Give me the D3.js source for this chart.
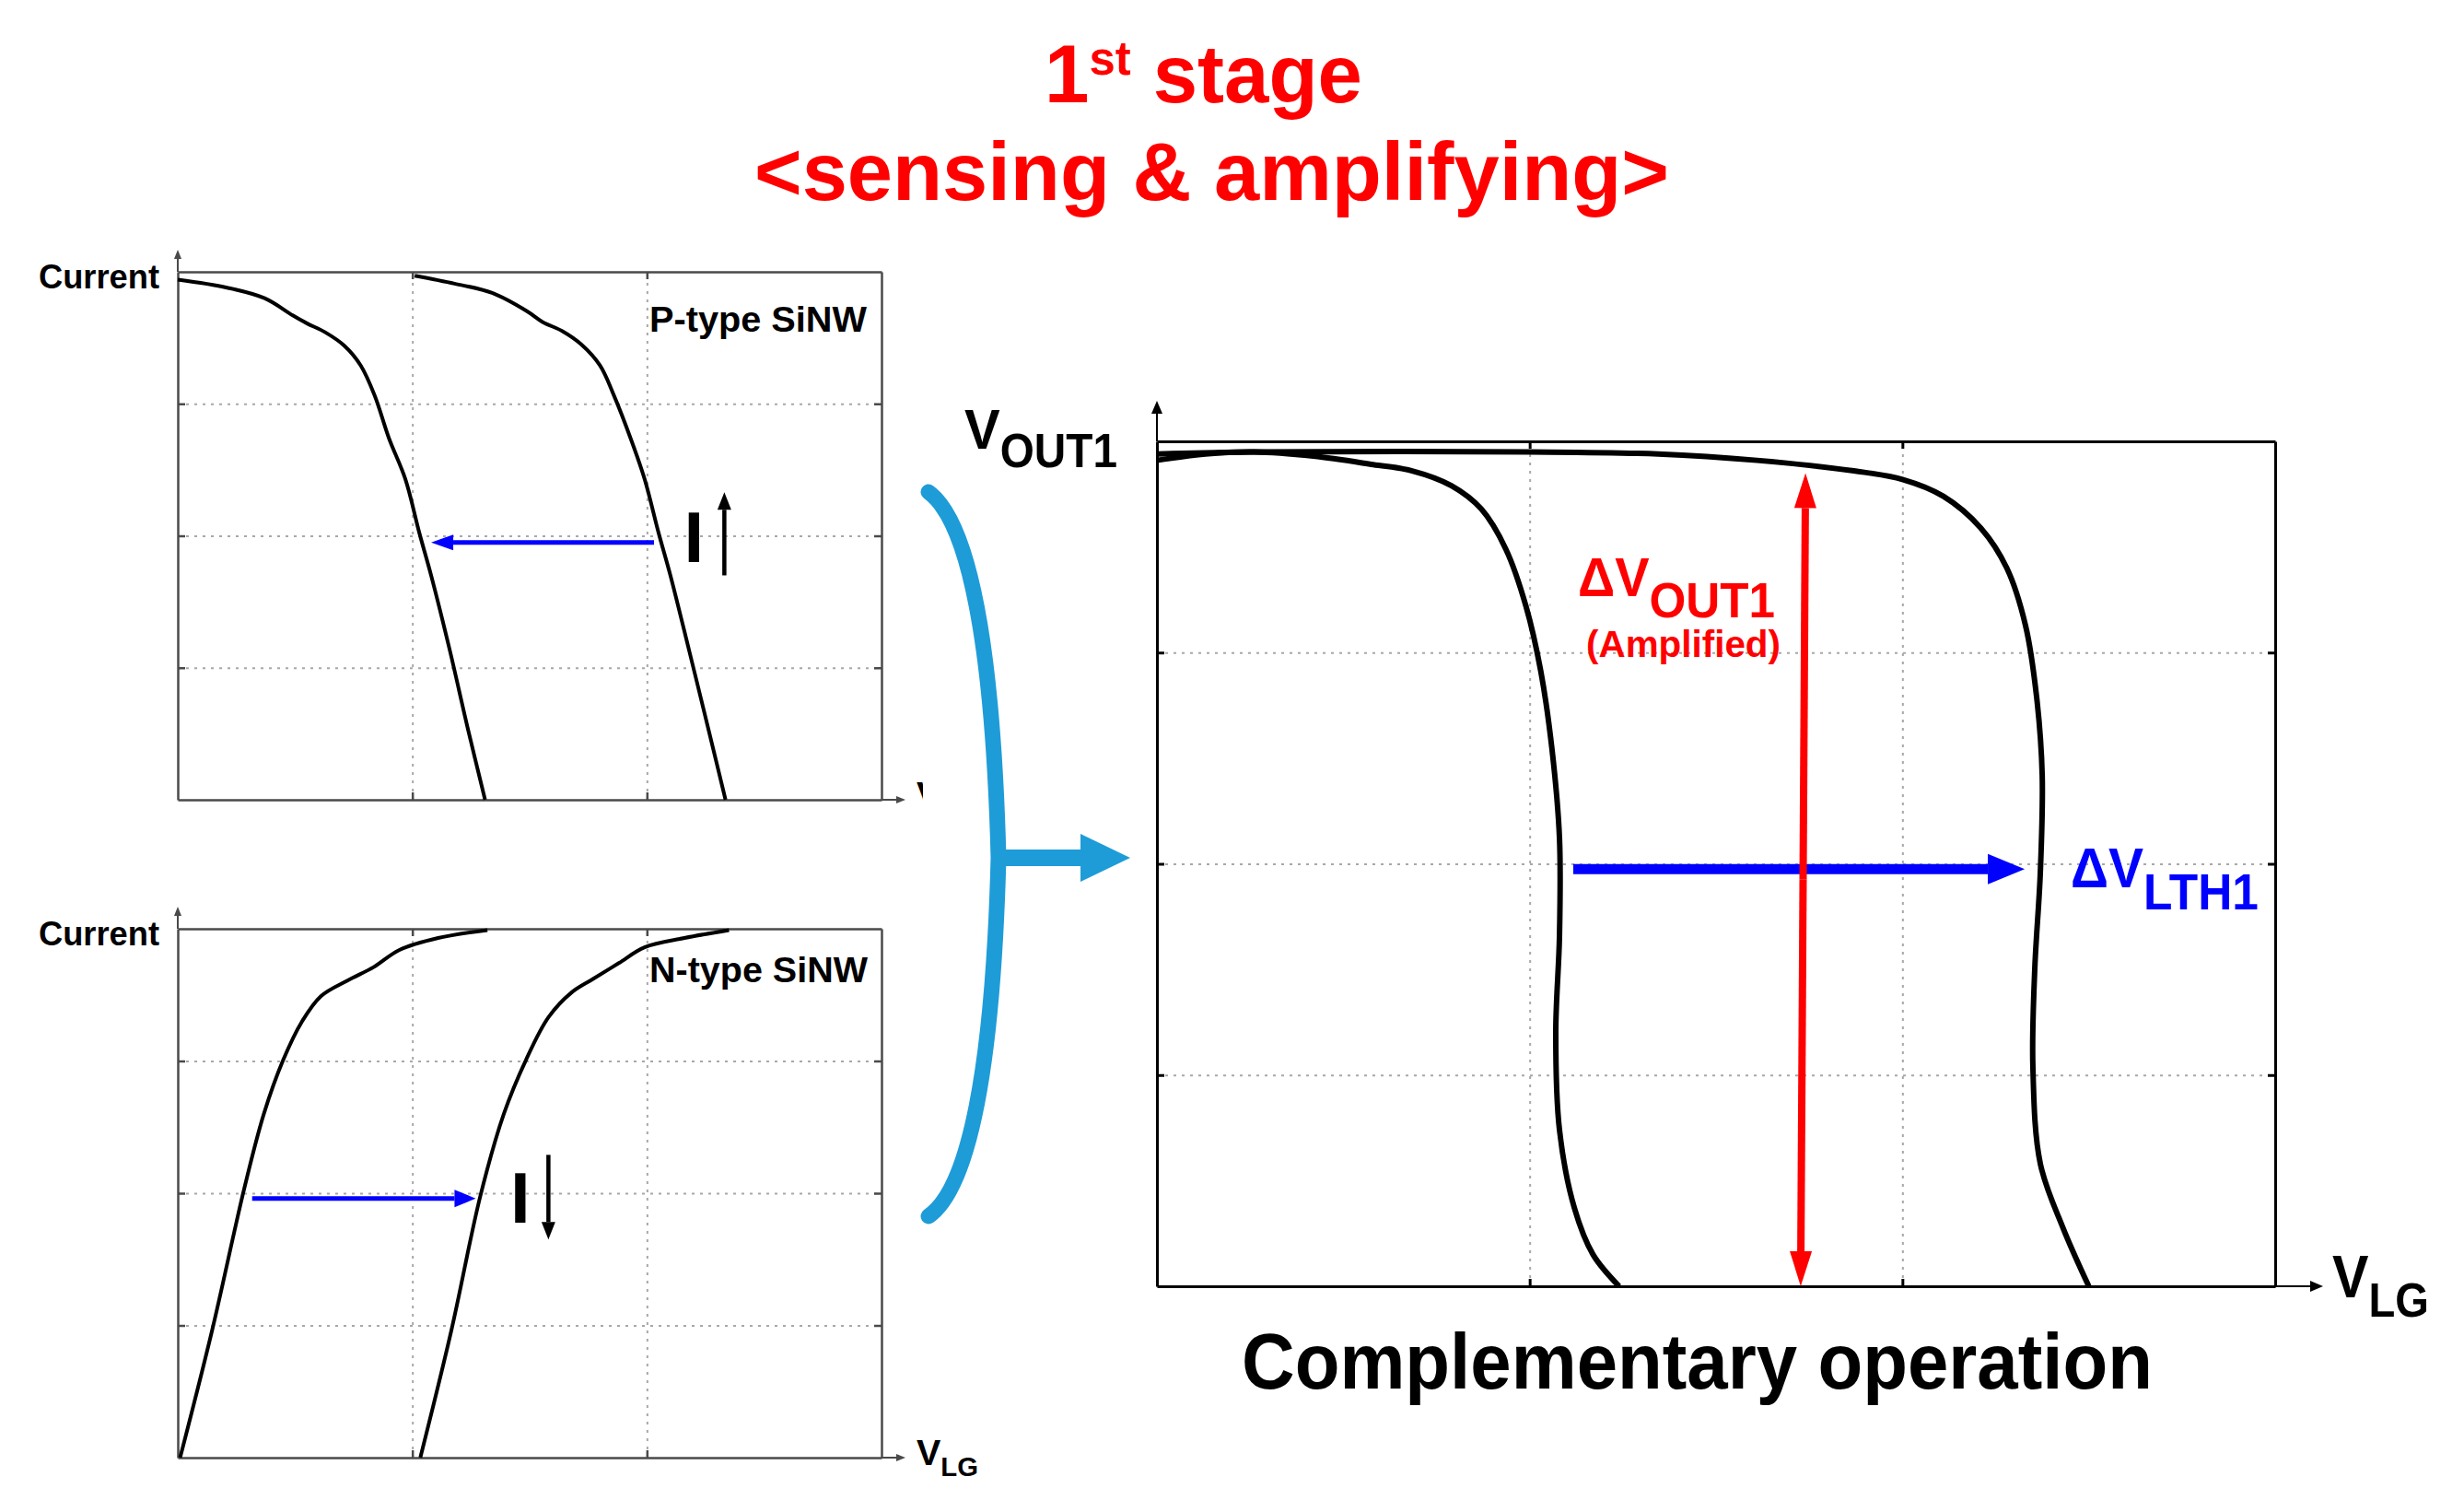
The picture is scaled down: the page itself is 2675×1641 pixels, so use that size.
<!DOCTYPE html>
<html>
<head>
<meta charset="utf-8">
<script src="https://d3js.org/d3.v7.min.js"></script>
<style>
body { margin: 0; background: #fff; }
text { font-family: "Liberation Sans", Arial, sans-serif; font-weight: bold; }
</style>
</head>
<body>
<div id="chart"></div>
<script>
// values, in grid units (x: 0..3, y: 0..4)
const xTicks = [1, 2];
const yTicks = [1, 2, 3];

const pTypeA = [[0,3.94],[0.21,3.88],[0.37,3.80],[0.49,3.67],[0.55,3.61],[0.63,3.54],[0.71,3.44],
  [0.78,3.29],[0.84,3.06],[0.90,2.74],[0.97,2.43],[1.03,2.02],[1.08,1.70],[1.16,1.13],[1.235,0.55],[1.31,0]];
const pTypeB = [[1.01,3.97],[1.18,3.91],[1.34,3.84],[1.49,3.70],[1.555,3.62],[1.64,3.55],[1.72,3.45],
  [1.80,3.29],[1.86,3.06],[1.93,2.74],[1.99,2.43],[2.05,2.02],[2.10,1.70],[2.18,1.13],[2.26,0.55],[2.335,0]];

const nTypeA = [[0.01,0],[0.146,0.96],[0.284,2.04],[0.367,2.60],[0.45,3.01],[0.53,3.30],[0.61,3.49],
  [0.725,3.61],[0.835,3.71],[0.945,3.84],[1.11,3.93],[1.32,3.99]];
const nTypeB = [[1.034,0],[1.166,0.96],[1.29,1.98],[1.39,2.60],[1.485,3.01],[1.58,3.33],[1.68,3.52],
  [1.77,3.62],[1.88,3.74],[1.99,3.86],[2.16,3.93],[2.35,3.99]];

const outA = [[0,3.91],[0.13,3.94],[0.26,3.95],[0.42,3.93],[0.58,3.89],[0.685,3.86],[0.79,3.79],[0.87,3.68],
  [0.936,3.49],[0.99,3.22],[1.03,2.91],[1.06,2.54],[1.08,2.12],[1.08,1.66],[1.07,1.20],[1.08,0.74],
  [1.12,0.37],[1.17,0.15],[1.24,0]];
const outB = [[0,3.94],[0.26,3.95],[1.0,3.95],[1.345,3.94],[1.61,3.91],[1.87,3.86],[2.0,3.82],[2.11,3.74],
  [2.21,3.59],[2.28,3.40],[2.33,3.13],[2.36,2.79],[2.375,2.42],[2.37,1.96],[2.355,1.50],[2.35,1.04],
  [2.37,0.58],[2.43,0.28],[2.50,0]];

// shifts shown by the arrows: [y, from x, to x]
const pShift = [1.95, 2.03, 1.08];
const nShift = [1.96, 0.317, 1.27];
const lthShift = [1.975, 1.117, 2.328];
// output swing: [x top, y top, x bottom, y bottom]
const outSwing = [1.74, 3.85, 1.727, 0];

const width = 2675, height = 1641;

const svg = d3.select("#chart").append("svg")
  .attr("width", width)
  .attr("height", height);

function arrow(g, x1, y1, x2, y2, color, w, hl, hw) {
  const a = Math.atan2(y2 - y1, x2 - x1);
  const bx = x2 - hl * Math.cos(a), by = y2 - hl * Math.sin(a);
  g.append("line").attr("x1", x1).attr("y1", y1).attr("x2", bx).attr("y2", by)
    .attr("stroke", color).attr("stroke-width", w);
  const px = -Math.sin(a) * hw / 2, py = Math.cos(a) * hw / 2;
  g.append("path")
    .attr("d", "M" + x2 + "," + y2 + "L" + (bx + px) + "," + (by + py) + "L" + (bx - px) + "," + (by - py) + "Z")
    .attr("fill", color);
}

function panel(box, frameColor, frameW, arrowExt, headL, headW) {
  const x = d3.scaleLinear().domain([0, 3]).range([box.x0, box.x1]);
  const y = d3.scaleLinear().domain([0, 4]).range([box.y1, box.y0]);
  const g = svg.append("g");
  const w = box.x1 - box.x0, h = box.y1 - box.y0;

  // dotted grid
  g.append("g").attr("transform", "translate(0," + box.y1 + ")")
    .call(d3.axisBottom(x).tickValues(xTicks).tickSize(-h).tickFormat(""))
    .call(s => s.select(".domain").remove())
    .selectAll("line").attr("stroke", "#a8a8a8").attr("stroke-width", 2).attr("stroke-dasharray", "3,6");
  g.append("g").attr("transform", "translate(" + box.x0 + ",0)")
    .call(d3.axisLeft(y).tickValues(yTicks).tickSize(-w).tickFormat(""))
    .call(s => s.select(".domain").remove())
    .selectAll("line").attr("stroke", "#a8a8a8").attr("stroke-width", 2).attr("stroke-dasharray", "3,6");

  // frame with inward ticks
  const sides = [
    [d3.axisBottom(x).tickValues(xTicks), "translate(0," + box.y1 + ")"],
    [d3.axisTop(x).tickValues(xTicks), "translate(0," + box.y0 + ")"],
    [d3.axisLeft(y).tickValues(yTicks), "translate(" + box.x0 + ",0)"],
    [d3.axisRight(y).tickValues(yTicks), "translate(" + box.x1 + ",0)"]
  ];
  sides.forEach(function(s) {
    g.append("g").attr("transform", s[1])
      .call(s[0].tickSize(-8).tickSizeOuter(0).tickFormat(""))
      .call(a => a.select(".domain").attr("stroke", frameColor).attr("stroke-width", frameW))
      .selectAll("line").attr("stroke", frameColor).attr("stroke-width", frameW);
  });

  // axis arrows
  arrow(g, box.x0, box.y0, box.x0, box.y0 - arrowExt[1], frameColor, 2, headL, headW);
  arrow(g, box.x1, box.y1, box.x1 + arrowExt[0], box.y1, frameColor, 2, headL, headW);

  return { g: g, x: x, y: y };
}

function curve(p, data, w) {
  const line = d3.line()
    .x(d => p.x(d[0]))
    .y(d => p.y(d[1]))
    .curve(d3.curveCatmullRom.alpha(0.5));
  p.g.append("path").datum(data)
    .attr("d", line)
    .attr("fill", "none")
    .attr("stroke", "#000")
    .attr("stroke-width", w)
    .attr("stroke-linejoin", "round");
}

function subLabel(x, y, main, sub, s1, s2, dy, color, len) {
  const t = svg.append("text").attr("x", x).attr("y", y).attr("fill", color);
  t.append("tspan").attr("font-size", s1).text(main);
  t.append("tspan").attr("font-size", s2).attr("dy", dy).text(sub);
  if (len) t.attr("textLength", len).attr("lengthAdjust", "spacingAndGlyphs");
  return t;
}

// title
const title = svg.append("text").attr("x", 1134).attr("y", 111).attr("fill", "#ff0000")
  .attr("textLength", 345).attr("lengthAdjust", "spacingAndGlyphs");
title.append("tspan").attr("font-size", 89).text("1");
title.append("tspan").attr("font-size", 52).attr("dy", -30).text("st");
title.append("tspan").attr("font-size", 89).attr("dy", 30).text(" stage");
svg.append("text").attr("x", 819).attr("y", 217).attr("fill", "#ff0000")
  .attr("font-size", 89).attr("textLength", 993).attr("lengthAdjust", "spacingAndGlyphs")
  .text("<sensing & amplifying>");

// P-type panel
const pP = panel({x0: 193, x1: 957, y0: 295, y1: 868}, "#4a4a4a", 2.5, [26, 24], 10, 8);
curve(pP, pTypeA, 4);
curve(pP, pTypeB, 4);
arrow(pP.g, pP.x(pShift[1]), pP.y(pShift[0]), pP.x(pShift[2]), pP.y(pShift[0]), "#0000ff", 5, 24, 17);
pP.g.append("text").attr("x", pP.x(2.20)).attr("y", pP.y(1.80)).attr("font-size", 78)
  .attr("text-anchor", "middle").text("I");
arrow(pP.g, pP.x(2.33), pP.y(1.70), pP.x(2.33), pP.y(2.33), "#000", 4.5, 19, 15);
pP.g.append("text").attr("x", 705).attr("y", 360).attr("font-size", 38)
  .attr("textLength", 236).attr("lengthAdjust", "spacingAndGlyphs").text("P-type SiNW");
svg.append("text").attr("x", 42).attr("y", 313).attr("font-size", 37)
  .attr("textLength", 131).attr("lengthAdjust", "spacingAndGlyphs").text("Current");
// x label of the upper panel is cut at the picture's edge
svg.append("clipPath").attr("id", "cutV").append("rect")
  .attr("x", 980).attr("y", 820).attr("width", 22).attr("height", 80);
subLabel(995, 876, "V", "LG", 38, 28, 12, "#000", 67).attr("clip-path", "url(#cutV)");

// N-type panel
const nP = panel({x0: 193, x1: 957, y0: 1008, y1: 1582}, "#4a4a4a", 2.5, [26, 24], 10, 8);
curve(nP, nTypeA, 4);
curve(nP, nTypeB, 4);
arrow(nP.g, nP.x(nShift[1]), nP.y(nShift[0]), nP.x(nShift[2]), nP.y(nShift[0]), "#0000ff", 5, 23, 19);
nP.g.append("text").attr("x", nP.x(1.46)).attr("y", nP.y(1.78)).attr("font-size", 78)
  .attr("text-anchor", "middle").text("I");
arrow(nP.g, nP.x(1.58), nP.y(2.29), nP.x(1.58), nP.y(1.65), "#000", 4.5, 19, 15);
nP.g.append("text").attr("x", 705).attr("y", 1066).attr("font-size", 38)
  .attr("textLength", 237).attr("lengthAdjust", "spacingAndGlyphs").text("N-type SiNW");
svg.append("text").attr("x", 42).attr("y", 1026).attr("font-size", 37)
  .attr("textLength", 131).attr("lengthAdjust", "spacingAndGlyphs").text("Current");
subLabel(995, 1590, "V", "LG", 39, 29, 12, "#000", 67);

// brace and arrow joining the two inputs to the output
svg.append("path")
  .attr("d", "M1008,534 C1052,566 1078,700 1084,931 C1078,1160 1052,1290 1008,1320")
  .attr("fill", "none").attr("stroke", "#1e9cd8").attr("stroke-width", 17).attr("stroke-linecap", "round");
arrow(svg, 1088, 931, 1227, 931, "#1e9cd8", 18, 54, 52);

// output panel
const oP = panel({x0: 1256, x1: 2470, y0: 479, y1: 1396}, "#000", 3, [52, 44], 14, 12);
curve(oP, outA, 6);
curve(oP, outB, 6);
arrow(oP.g, oP.x(lthShift[1]), oP.y(lthShift[0]), oP.x(lthShift[2]), oP.y(lthShift[0]), "#0000ff", 11, 40, 33);
// red double arrow
(function() {
  const x1 = oP.x(outSwing[0]), y1 = oP.y(outSwing[1]), x2 = oP.x(outSwing[2]), y2 = oP.y(outSwing[3]);
  const mx = (x1 + x2) / 2, my = (y1 + y2) / 2;
  arrow(oP.g, mx, my, x1, y1, "#ff0000", 8, 38, 24);
  arrow(oP.g, mx, my, x2, y2, "#ff0000", 8, 38, 24);
})();

subLabel(1047, 487, "V", "OUT1", 62, 51, 20, "#000", 166);
subLabel(2532, 1408, "V", "LG", 64, 51, 21, "#000", 105);
subLabel(1713, 647, "\u0394V", "OUT1", 59, 54, 23, "#ff0000", 214);
svg.append("text").attr("x", 1722).attr("y", 713).attr("font-size", 40).attr("fill", "#ff0000")
  .attr("textLength", 211).attr("lengthAdjust", "spacingAndGlyphs").text("(Amplified)");
subLabel(2248, 963, "\u0394V", "LTH1", 61, 55, 24, "#0000ff", 204);

svg.append("text").attr("x", 1348).attr("y", 1507).attr("font-size", 86)
  .attr("textLength", 989).attr("lengthAdjust", "spacingAndGlyphs").text("Complementary operation");
</script>
</body>
</html>
